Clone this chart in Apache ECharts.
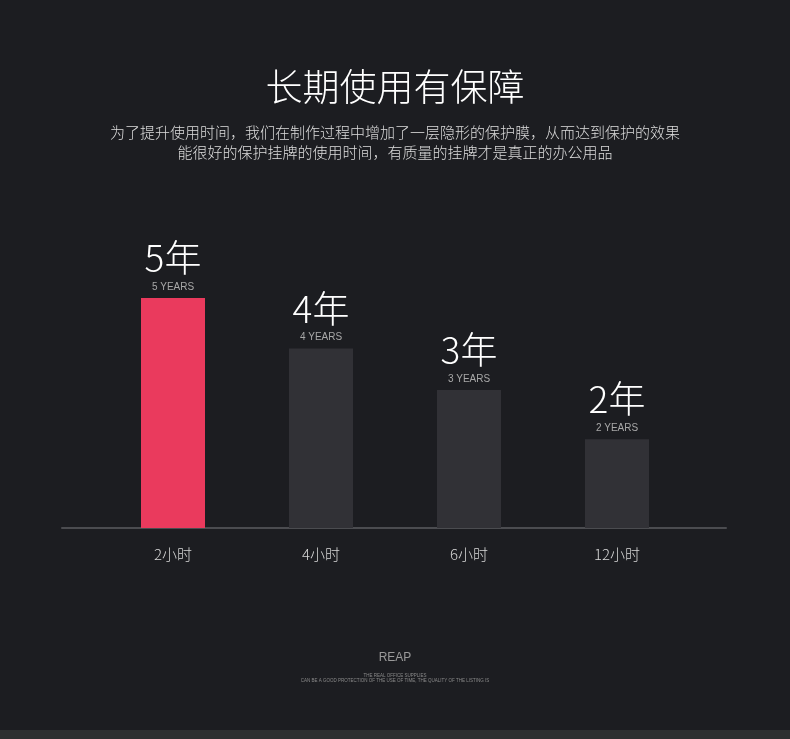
<!DOCTYPE html>
<html><head><meta charset="utf-8">
<script src="https://cdn.jsdelivr.net/npm/echarts@6/dist/echarts.min.js"></script>
<style>html,body{margin:0;padding:0;background:#1c1d21;}#c{width:790px;height:739px;}</style>
</head><body><div id="c"></div>
<script>
const categories = ['2小时', '4小时', '6小时', '12小时'];
const values = [5, 3.9, 3.0, 1.93];
const bigLabels = ['5年', '4年', '3年', '2年'];
const smallLabels = ['5 YEARS', '4 YEARS', '3 YEARS', '2 YEARS'];
const barColors = ['#ea3a5d', '#313136', '#313136', '#313136'];
const titleText = '长期使用有保障';
const subText = '为了提升使用时间，我们在制作过程中增加了一层隐形的保护膜，从而达到保护的效果\n能很好的保护挂牌的使用时间，有质量的挂牌才是真正的办公用品';

const font = '"Noto Sans CJK SC", "Noto Sans", sans-serif';
const chart = echarts.init(document.getElementById('c'));
chart.setOption({
  backgroundColor: '#1c1d21',
  animation: false,
  title: [{
    text: titleText,
    left: 'center', top: 63,
    textStyle: { color: '#ffffff', fontSize: 37, fontWeight: 300, fontFamily: font }
  }, {
    text: subText,
    left: 'center', top: 117,
    textStyle: { color: '#dddddd', fontSize: 15, fontWeight: 300, fontFamily: font, lineHeight: 20, align: 'center' }
  }, {
    text: 'REAP',
    left: 'center', top: 647,
    textStyle: { color: '#9a9a9a', fontSize: 12, fontWeight: 'normal', fontFamily: 'Liberation Sans, Arial' }
  }, {
    text: 'THE REAL OFFICE SUPPLIES\nCAN BE A GOOD PROTECTION OF THE USE OF TIME, THE QUALITY OF THE LISTING IS',
    left: 'center', top: 668,
    textStyle: { color: '#8a8a8a', fontSize: 4.5, fontWeight: 'normal', fontFamily: 'Liberation Sans, Arial', lineHeight: 5, align: 'center' }
  }],
  grid: [
    { left: 99, right: 99, top: 252, bottom: 211 },
    { left: 62, right: 64, top: 252, bottom: 211 }
  ],
  xAxis: [{
    type: 'category', data: categories, gridIndex: 0,
    axisLine: { show: false }, axisTick: { show: false },
    axisLabel: { color: '#d8d8d8', fontSize: 15, fontWeight: 300, margin: 19, fontFamily: font }
  }, {
    type: 'category', data: [''], gridIndex: 1,
    axisLine: { show: true, lineStyle: { color: '#4b4c50', width: 2 } },
    axisTick: { show: false }, axisLabel: { show: false }
  }],
  yAxis: [
    { type: 'value', min: 0, max: 6, gridIndex: 0, show: false },
    { type: 'value', min: 0, max: 6, gridIndex: 1, show: false }
  ],
  series: [{
    type: 'bar',
    xAxisIndex: 0, yAxisIndex: 0,
    barWidth: 64,
    data: values.map((v, i) => ({ value: v, itemStyle: { color: barColors[i] } })),
    label: {
      show: true, position: 'top', distance: 4,
      formatter: p => '{big|' + bigLabels[p.dataIndex] + '}\n{small|' + smallLabels[p.dataIndex] + '}',
      rich: {
        big: { color: '#ffffff', fontSize: 37, fontWeight: 300, fontFamily: font, lineHeight: 40, padding: [0, 0, 4, 0] },
        small: { color: '#a8a8a8', fontSize: 10, fontFamily: 'Liberation Sans, Arial', lineHeight: 14 }
      }
    }
  }],
  graphic: [{
    type: 'rect', left: 0, bottom: 0,
    shape: { width: 790, height: 9 },
    style: { fill: '#2e2f30' }, silent: true
  }]
});
</script></body></html>
